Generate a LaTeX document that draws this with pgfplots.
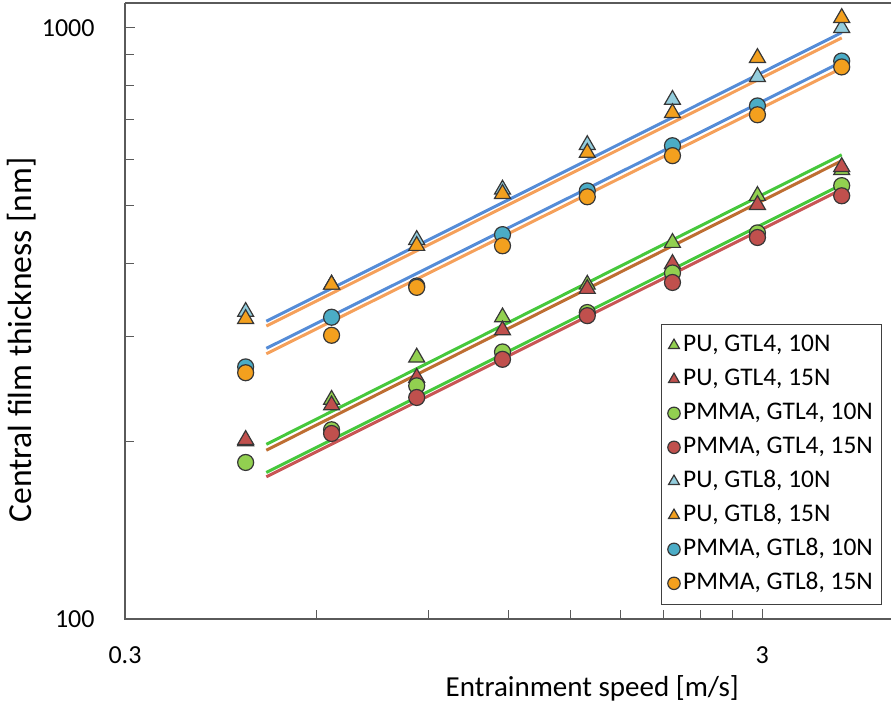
\documentclass[border=0pt]{standalone}
\usepackage{fontspec}
\setmainfont{Carlito}
\usepackage{pgfplots}
\pgfplotsset{compat=1.18}
\definecolor{greenfill}{RGB}{146,208,80}
\definecolor{redfill}{RGB}{192,80,77}
\definecolor{ltbluefill}{RGB}{147,205,221}
\definecolor{orangefill}{RGB}{243,160,30}
\definecolor{bluefill}{RGB}{75,172,198}
\definecolor{greenline}{RGB}{70,200,60}
\definecolor{brownline}{RGB}{190,110,50}
\definecolor{redline}{RGB}{200,85,85}
\definecolor{blueline}{RGB}{85,140,215}
\definecolor{orangeline}{RGB}{245,160,90}
\definecolor{edge}{RGB}{55,55,55}
\definecolor{axisgray}{RGB}{90,90,90}
\begin{document}
\begin{tikzpicture}
\path[use as bounding box] (-62.5pt,-42pt) rectangle (383pt,309.5pt);
\begin{axis}[
  at={(0,0)}, anchor=south west,
  xmode=log, ymode=log,
  scale only axis, width=383pt, height=308pt,
  xmin=0.3, xmax=4.78, ymin=100, ymax=1102,
  axis line style={draw=none},
  tick pos=left, tick align=inside,
  xtick={0.3,3}, xticklabels={0.3,3},
  minor xtick={0.6,0.9,1.2,1.5,1.8,2.1,2.4,2.7},
  ytick={100,1000}, yticklabels={100,1000},
  minor ytick={200,300,400,500,600,700,800,900},
  major tick length=5pt, minor tick length=4.5pt,
  tick style={line width=0.5pt, color=axisgray},
  /pgf/number format/assume math mode=true,
  ticklabel style={font=\fontsize{13}{15}\selectfont},
  xticklabel style={anchor=center, yshift=-18pt},
  yticklabel style={anchor=east, inner sep=0pt, xshift=-15pt},
  xlabel={Entrainment speed [m/s]},
  ylabel={Central film thickness [nm]},
  xlabel style={font=\fontsize{14.5}{17}\selectfont, at={(axis description cs:0.61,-0.112)}, anchor=center},
  ylabel style={font=\fontsize{16.8}{19}\selectfont, at={(axis description cs:-0.1345,0.453)}, anchor=center, rotate=0},
  legend style={at={(axis description cs:0.7,0.479)}, anchor=north west,
    draw=black!75, line width=0.6pt, fill=white,
    font=\fontsize{12.7}{15}\selectfont, row sep=2.2pt,
    inner xsep=3pt, inner ysep=3pt,
    nodes={inner sep=1.5pt, text height=9.2pt, text depth=2.6pt}},
  legend cell align=left,
  legend image code/.code={\draw[#1, mark size=3.1pt] plot coordinates {(0.1cm,0cm)};},
]
% fitted power-law lines
\addplot[forget plot, color=blueline, line width=1.5pt] coordinates {(0.5,319) (4.0,982)};
\addplot[forget plot, color=orangeline, line width=1.5pt] coordinates {(0.5,313) (4.0,962)};
\addplot[forget plot, color=blueline, line width=1.5pt] coordinates {(0.5,287) (4.0,876)};
\addplot[forget plot, color=orangeline, line width=1.5pt] coordinates {(0.5,281) (4.0,855)};
\addplot[forget plot, color=greenline, line width=1.5pt] coordinates {(0.5,197.5) (4.0,610)};
\addplot[forget plot, color=brownline, line width=1.5pt] coordinates {(0.5,193) (4.0,596)};
\addplot[forget plot, color=greenline, line width=1.5pt] coordinates {(0.5,177) (4.0,543)};
\addplot[forget plot, color=redline, line width=1.5pt] coordinates {(0.5,174) (4.0,533)};
% measured points
\addplot[only marks, mark=triangle*, mark size=4.6pt, mark options={fill=greenfill, draw=edge, line width=0.6pt}]
  coordinates {(0.464,200) (0.633,235) (0.861,277) (1.174,324) (1.595,368) (2.17,433) (2.95,520) (4.0,575)};
\addlegendentry{PU, GTL4, 10N}
\addplot[only marks, mark=triangle*, mark size=4.6pt, mark options={fill=redfill, draw=edge, line width=0.6pt}]
  coordinates {(0.464,201) (0.633,230) (0.861,256) (1.174,308) (1.595,362) (2.17,399) (2.95,502) (4.0,582)};
\addlegendentry{PU, GTL4, 15N}
\addplot[only marks, mark=*, mark size=4pt, mark options={fill=greenfill, draw=edge, line width=0.6pt}]
  coordinates {(0.464,184) (0.633,209) (0.861,248) (1.174,283) (1.595,330) (2.17,385) (2.95,450) (4.0,541)};
\addlegendentry{PMMA, GTL4, 10N}
\addplot[only marks, mark=*, mark size=4pt, mark options={fill=redfill, draw=edge, line width=0.6pt}]
  coordinates {(0.633,206) (0.861,237) (1.174,275) (1.595,326) (2.17,371) (2.95,442) (4.0,520)};
\addlegendentry{PMMA, GTL4, 15N}
\addplot[only marks, mark=triangle*, mark size=4.6pt, mark options={fill=ltbluefill, draw=edge, line width=0.6pt}]
  coordinates {(0.464,331) (0.633,368) (0.861,438) (1.174,533) (1.595,634) (2.17,756) (2.95,826) (4.0,1000)};
\addlegendentry{PU, GTL8, 10N}
\addplot[only marks, mark=triangle*, mark size=4.6pt, mark options={fill=orangefill, draw=edge, line width=0.6pt}]
  coordinates {(0.464,322) (0.633,368) (0.861,428) (1.174,524) (1.595,615) (2.17,718) (2.95,890) (4.0,1040)};
\addlegendentry{PU, GTL8, 15N}
\addplot[only marks, mark=*, mark size=4pt, mark options={fill=bluefill, draw=edge, line width=0.6pt}]
  coordinates {(0.464,267) (0.633,324) (0.861,366) (1.174,447) (1.595,530) (2.17,632) (2.95,738) (4.0,879)};
\addlegendentry{PMMA, GTL8, 10N}
\addplot[only marks, mark=*, mark size=4pt, mark options={fill=orangefill, draw=edge, line width=0.6pt}]
  coordinates {(0.464,261) (0.633,302) (0.861,364) (1.174,428) (1.595,518) (2.17,608) (2.95,713) (4.0,859)};
\addlegendentry{PMMA, GTL8, 15N}
\end{axis}
\draw[line width=0.8pt, color=axisgray] (0,308pt) -- (0,0) -- (383pt,0);
\draw[line width=0.8pt, color=axisgray] (0,308pt) -- (383pt,308pt);
\end{tikzpicture}
\end{document}
